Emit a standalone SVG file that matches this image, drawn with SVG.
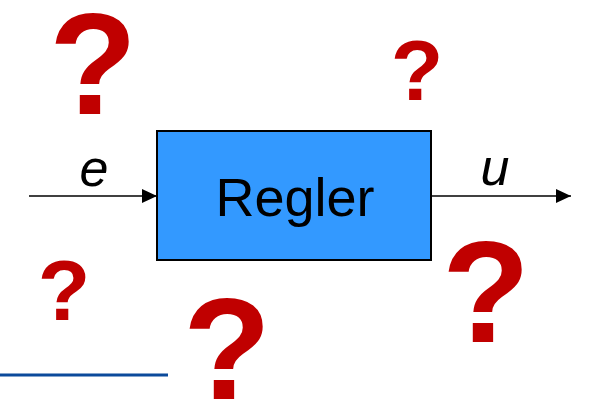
<svg xmlns="http://www.w3.org/2000/svg" width="590" height="405" viewBox="0 0 590 405">
<defs>
<style>
.q{font-family:"Liberation Sans",Arial,sans-serif;font-weight:bold;fill:#C00000;text-anchor:middle}
.lbl{font-family:"Liberation Sans",Arial,sans-serif;fill:#000;text-anchor:middle}
.it{font-style:italic}
.conn{stroke:#000;stroke-width:1.6;fill:none}
</style>
<marker id="ah" viewBox="0 0 15 14" refX="15" refY="7" markerWidth="15" markerHeight="14" markerUnits="userSpaceOnUse" orient="auto">
<path d="M0,0 L15,7 L0,14 Z" fill="#000"/>
</marker>
</defs>
<rect width="590" height="405" fill="#fff"/>
<g id="connectors">
<line class="conn" x1="29" y1="196" x2="157" y2="196" marker-end="url(#ah)"/>
<line class="conn" x1="431" y1="196" x2="571" y2="196" marker-end="url(#ah)"/>
</g>
<g id="regler">
<rect x="157" y="131" width="274" height="129" fill="#3399FF" stroke="#000" stroke-width="2"/>
<text class="lbl" x="295" y="216" font-size="54">Regler</text>
</g>
<g id="label-e"><text class="lbl it" x="94" y="186" font-size="52">e</text></g>
<g id="label-u"><text class="lbl it" x="495" y="185" font-size="52">u</text></g>
<g id="questions">
<text class="q" x="93" y="114" font-size="144">?</text>
<text class="q" x="417" y="100" font-size="86">?</text>
<text class="q" x="64" y="320" font-size="86">?</text>
<text class="q" x="227" y="399" font-size="144">?</text>
<text class="q" x="486" y="342" font-size="144">?</text>
</g>
<line x1="0" y1="375" x2="168" y2="375" stroke="#0B4A9B" stroke-width="3"/>
</svg>
